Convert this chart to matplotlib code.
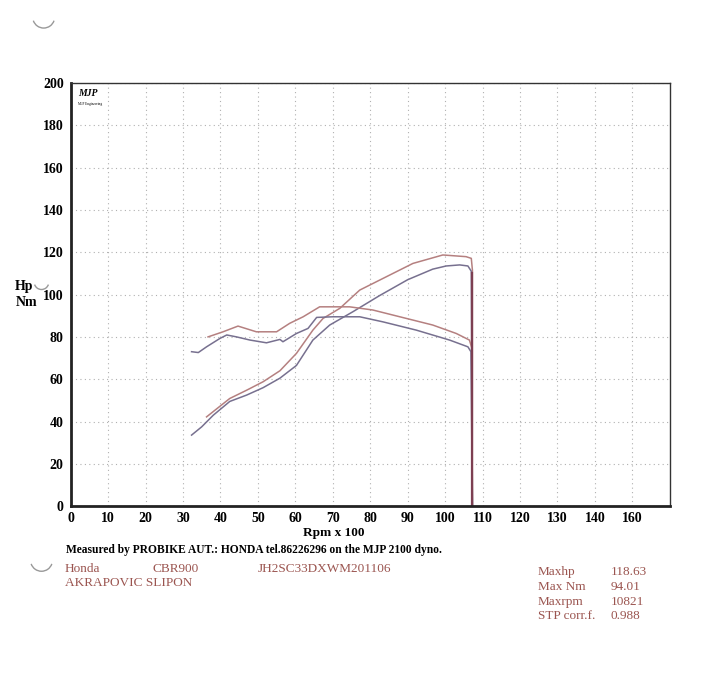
import matplotlib
matplotlib.use("Agg")
import matplotlib.pyplot as plt
from matplotlib.patches import Arc

# Dyno run readings (rpm x 100 vs value)
red_hp_rpm = [36.3, 39, 42.5, 47, 51.4, 55.9, 60.3, 64.7, 67.4, 71.9, 77.2, 84.3, 91.4,
              99.4, 105.6, 107, 107.3, 107.3]
red_hp = [42.2, 46, 50.9, 54.8, 58.8, 64, 72.2, 83.2, 88.7, 93.5, 102.1, 108.4, 114.7,
          118.7, 117.9, 117.1, 111.6, 0]

blue_hp_rpm = [32.3, 35, 38.1, 42.5, 47, 51.4, 55.9, 60.3, 64.7, 69.2, 75.4, 82.5, 90,
               96.7, 100.3, 103.9, 106.1, 107, 107.3]
blue_hp = [33.6, 37.5, 43, 49.5, 52.5, 56, 60.5, 66.5, 78.5, 85.6, 91.9, 99.5, 107,
           112, 113.5, 114, 113.5, 111, 0]

red_nm_rpm = [36.7, 40.7, 44.7, 49.6, 55, 58.5, 62.1, 66.5, 74.5, 80.7, 87.9, 96.7,
              103, 106.5, 107.1, 107.3]
red_nm = [80, 82.4, 85.1, 82.4, 82.4, 86.4, 89.5, 94.2, 94.2, 92.7, 89.5, 85.6,
          81.6, 78.5, 75, 0]

blue_nm_rpm = [32.3, 34.1, 36.3, 39.9, 41.7, 44.3, 47.9, 52.3, 55.9, 56.7, 60.3, 63.4,
               65.7, 70.1, 77.2, 83.4, 92.3, 101.2, 106.1, 106.9, 107.3]
blue_nm = [73, 72.6, 75.3, 79.3, 80.9, 80, 78.5, 77.2, 78.8, 77.7, 81.6, 84,
           89.2, 89.5, 89.5, 87.1, 83.2, 78.5, 75.3, 73, 0]

x_ticks = [0, 10, 20, 30, 40, 50, 60, 70, 80, 90, 100, 110, 120, 130, 140, 150]
x_tick_labels = ["0", "10", "20", "30", "40", "50", "60", "70", "80", "90", "100",
                 "110", "120", "130", "140", "160"]
y_ticks = [0, 20, 40, 60, 80, 100, 120, 140, 160, 180, 200]

info_left = [("Honda", 0.089, 0.165), ("CBR900", 0.209, 0.165),
             ("JH2SC33DXWM201106", 0.354, 0.165), ("AKRAPOVIC SLIPON", 0.089, 0.145)]
info_keys = ["Maxhp", "Max Nm", "Maxrpm", "STP corr.f."]
info_vals = ["118.63", "94.01", "10821", "0.988"]

SERIF = "Liberation Serif"
RED = "#b58080"
BLUE = "#77708f"
BROWN = "#9b5550"

fig = plt.figure(figsize=(7.28, 6.85), dpi=100)
ax = fig.add_axes([0.097, 0.261, 0.823, 0.618])

ax.plot(red_hp_rpm, red_hp, color=RED, lw=1.1)
ax.plot(blue_hp_rpm, blue_hp, color=BLUE, lw=1.1)
ax.plot(red_nm_rpm, red_nm, color=RED, lw=1.1)
ax.plot(blue_nm_rpm, blue_nm, color=BLUE, lw=1.1)
# the end-of-run drop is drawn darker on the chart
ax.plot([107.3, 107.3], [0, 110], color="#7d3f52", lw=1.6)

ax.set_xlim(0, 160)
ax.set_ylim(0, 200)
ax.set_xticks(x_ticks)
ax.set_xticklabels(x_tick_labels)
ax.set_yticks(y_ticks)
ax.tick_params(length=0, labelsize=10)
ax.tick_params(axis="x", pad=4)
ax.tick_params(axis="y", pad=5)
for lab in ax.get_xticklabels() + ax.get_yticklabels():
    lab.set_fontfamily(SERIF)
    lab.set_fontweight("bold")

ax.grid(True, color="#b0b0b0", lw=0.8, linestyle=(0, (1, 3)))
for side in ("left", "bottom"):
    ax.spines[side].set_linewidth(2.0)
    ax.spines[side].set_color("#222222")
for side in ("top", "right"):
    ax.spines[side].set_linewidth(1.0)
    ax.spines[side].set_color("#333333")

# MJP logo
ax.text(0.012, 0.985, "MJP", transform=ax.transAxes, fontsize=7, fontstyle="italic",
        fontweight="bold", family=SERIF, va="top")
ax.text(0.012, 0.955, "MJP Engineering", transform=ax.transAxes, fontsize=2.5,
        family=SERIF, va="top")

fig.text(0.4585, 0.217, "Rpm x 100", fontsize=9.5, fontweight="bold", family=SERIF,
         ha="center")
fig.text(0.020, 0.577, "Hp", fontsize=10, fontweight="bold", family=SERIF)
fig.text(0.022, 0.553, "Nm", fontsize=10, fontweight="bold", family=SERIF)
fig.text(0.091, 0.193, "Measured by PROBIKE AUT.: HONDA tel.86226296 on the MJP 2100 dyno.",
         fontsize=8.3, fontweight="bold", family=SERIF)

for text, x, y in info_left:
    fig.text(x, y, text, fontsize=9.5, color=BROWN, family=SERIF)
for i, (k, v) in enumerate(zip(info_keys, info_vals)):
    y = 0.160 - i * 0.0214
    fig.text(0.739, y, k, fontsize=9.5, color=BROWN, family=SERIF)
    fig.text(0.839, y, v, fontsize=9.5, color=BROWN, family=SERIF)

# punch-hole marks from the scanned sheet
for cx, cy, w in [(0.060, 0.975, 0.03), (0.057, 0.182, 0.03), (0.057, 0.588, 0.02)]:
    fig.add_artist(Arc((cx, cy), w, w * 728 / 685, theta1=200, theta2=340,
                       transform=fig.transFigure, color="#999999", lw=1.0))

fig.savefig("out.png", dpi=100, facecolor="white")
